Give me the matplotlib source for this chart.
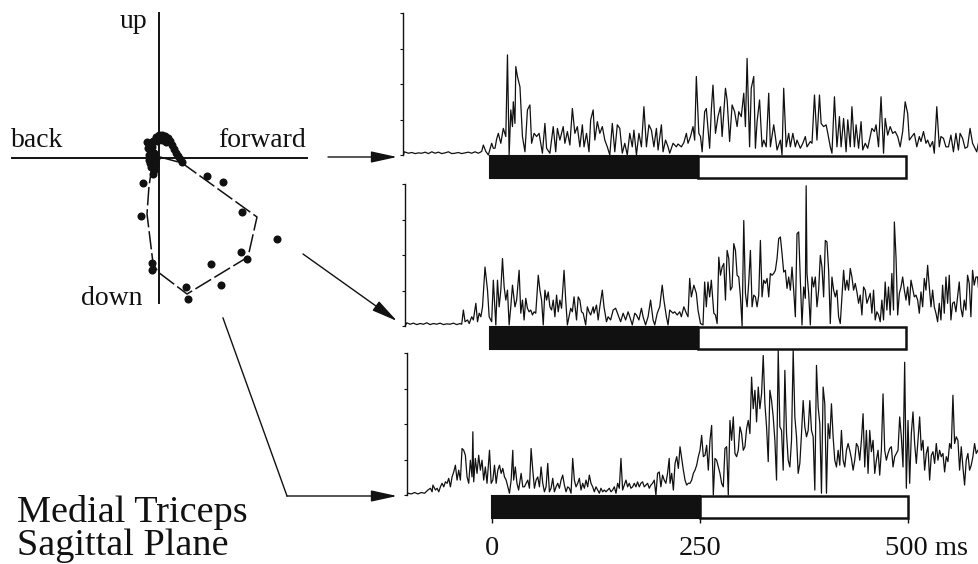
import numpy as np
import matplotlib
matplotlib.use("Agg")
import matplotlib.pyplot as plt
from matplotlib.patches import FancyArrowPatch, Rectangle

plt.rcParams['font.family'] = ['Liberation Serif', 'DejaVu Serif']

# ---------------- data ----------------
# left panel: hand positions (units relative to origin, x = forward, y = up)
dots_x = [-10, -10, -9, -8, -6, -3, 0, 3, 6, 9, 11, 13, 15, 17, 19, 21,
          -9, -8, -5, -4, -6, -5, -7, -2, 3, 7, -3, -11, -12, -4,
          23, 48, 64, 83, 118, 82, 88, 52, 62, 27, 29, -7, -7, -18, -16, -6]
dots_y = [-2, 3, 8, 13, 17, 21, 23, 23, 22, 20, 17, 13, 9, 5, 2, -1,
          -5, -9, -12, -7, -1, 5, 11, 17, 18, 16, 0, 10, 16, -3,
          -4, -18, -24, -54, -81, -94, -101, -106, -127, -129, -141, -105, -112, -58, -25, -16]
loop_x = [1, 23, 98, 89, 28, -1, -6, -12, -10, -6, 1]
loop_y = [1, -5, -59, -99, -136, -114, -105, -56, -28, -2, 1]

# EMG traces: (time in ms, amplitude in tick units)
emg_top = [(-104, 0.0), (-103, 0.09), (-98, 0.05), (-94, 0.07), (-90, 0.04), (-86, 0.06), (-82, 0.05), (-78, 0.08), (-74, 0.04), (-70, 0.09),
    (-66, 0.05), (-62, 0.08), (-58, 0.04), (-54, 0.06), (-50, 0.09), (-46, 0.04), (-42, 0.05), (-38, 0.07), (-34, 0.04), (-30, 0.06),
    (-26, 0.08), (-22, 0.05), (-18, 0.09), (-14, 0.05), (-10, 0.10), (-8, 0.28), (-5, 0.10), (-2, 0.0), (2, 0.33), (4, 0.19), (6, 0.19),
    (8, 0.45), (10, 0.61), (13, 0.33), (16, 0.75), (19, 0.52), (21, 2.82), (23, 0.0), (25, 1.27), (27, 0.80), (28, 1.50), (30, 0.89),
    (31, 2.49), (33, 2.21), (36, 1.92), (39, 0.52), (42, 0.09), (45, 1.27), (48, 1.41), (50, 0.33), (53, 0.61), (56, 0.52), (59, 0.61),
    (63, 0.05), (66, 0.89), (68, 0.19), (72, 0.05), (76, 0.80), (79, 0.09), (81, 0.75), (84, 0.42), (88, 0.80), (90, 0.33), (93, 0.66),
    (96, 0.28), (99, 1.31), (102, 0.61), (105, 0.80), (108, 0.23), (111, 0.85), (113, 0.23), (116, 0.61), (119, 0.09), (121, 0.99),
    (124, 1.27), (126, 0.42), (129, 0.94), (132, 0.61), (135, 0.80), (138, 0.42), (141, 0.23), (144, 0.0), (147, 0.89), (150, 0.09),
    (153, 0.85), (156, 0.75), (159, 0.05), (162, 0.33), (165, 0.0), (168, 0.61), (171, 0.23), (173, 0.70), (176, 0.0), (179, 0.61),
    (182, 0.23), (185, 1.36), (188, 0.23), (191, 0.85), (194, 0.70), (197, 0.23), (200, 0.75), (202, 0.14), (206, 0.85), (208, 0.09),
    (211, 0.42), (214, 0.23), (216, 0.05), (220, 0.33), (224, 0.23), (226, 0.31), (230, 0.23), (233, 0.35), (236, 0.61), (238, 0.33),
    (241, 0.52), (244, 0.80), (246, 0.42), (248, 2.21), (251, 0.61), (253, 0.52), (255, 0.09), (258, 1.22), (260, 1.31), (264, 0.19),
    (266, 1.27), (268, 1.97), (271, 0.61), (274, 1.08), (277, 1.36), (279, 0.52), (283, 1.88), (285, 1.55), (288, 0.38), (291, 1.41),
    (294, 1.22), (297, 0.80), (299, 1.22), (302, 1.08), (305, 1.74), (307, 0.80), (309, 2.72), (312, 0.23), (314, 1.88), (317, 2.21),
    (319, 0.19), (321, 0.94), (324, 1.55), (327, 0.23), (329, 0.42), (332, 0.23), (335, 1.74), (337, 0.23), (341, 0.85), (343, 0.52),
    (345, 0.14), (349, 0.42), (351, 0.0), (353, 1.88), (356, 0.23), (359, 0.61), (361, 0.23), (364, 0.61), (367, 0.23), (369, 0.42),
    (373, 0.19), (376, 0.33), (379, 0.52), (381, 0.23), (385, 0.38), (387, 0.33), (390, 1.69), (393, 0.42), (396, 1.69), (398, 0.89),
    (401, 0.80), (404, 0.85), (406, 0.61), (409, 0.23), (411, 0.05), (414, 1.64), (417, 0.23), (420, 1.08), (422, 0.23), (425, 1.03),
    (428, 0.09), (430, 0.99), (433, 0.23), (435, 1.36), (438, 0.23), (440, 0.85), (443, 0.19), (446, 0.94), (448, 0.14), (451, 0.33),
    (454, 0.19), (456, 0.42), (459, 0.75), (462, 0.66), (464, 0.85), (467, 0.23), (470, 1.64), (473, 0.05), (475, 1.03), (478, 0.56),
    (481, 0.80), (484, 0.61), (487, 0.66), (490, 0.52), (493, 0.23), (496, 0.66), (499, 1.50), (502, 1.17), (504, 0.42), (507, 0.52),
    (510, 0.61), (513, 0.23), (516, 0.52), (518, 0.38), (521, 0.66), (524, 0.33), (526, 0.42), (529, 0.23), (532, 0.38), (534, 0.05),
    (537, 1.36), (540, 0.23), (542, 0.52), (545, 0.47), (548, 0.23), (551, 0.23), (554, 0.56), (557, 0.09), (560, 0.61), (563, 0.14),
    (565, 0.61), (568, 0.47), (571, 0.19), (574, 0.23), (577, 0.75), (580, 0.33), (583, 0.19), (585, 0.09), (587, 0.33)]

emg_mid = [(-102, 0.0), (-100, 0.09), (-96, 0.05), (-92, 0.08), (-88, 0.04), (-84, 0.07), (-80, 0.05), (-76, 0.09), (-72, 0.04), (-68, 0.07),
    (-64, 0.05), (-60, 0.08), (-56, 0.04), (-52, 0.06), (-48, 0.05), (-44, 0.08), (-40, 0.04), (-36, 0.07), (-34, 0.05), (-32, 0.45),
    (-30, 0.12), (-27, 0.17), (-25, 0.07), (-22, 0.26), (-20, 0.17), (-17, 0.64), (-15, 0.12), (-13, 0.36), (-11, 0.26), (-9, 0.54),
    (-6, 1.66), (-3, 1.01), (-1, 0.26), (2, 0.12), (4, 1.29), (7, 0.03), (9, 1.29), (11, 0.54), (13, 1.01), (15, 1.90), (17, 1.10),
    (19, 0.73), (21, 1.01), (23, 0.03), (25, 0.54), (27, 1.15), (30, 0.54), (32, 0.73), (35, 1.57), (37, 0.36), (39, 0.73), (41, 0.17),
    (43, 0.78), (45, 0.50), (47, 0.40), (49, 0.45), (51, 0.31), (53, 0.40), (55, 0.36), (58, 1.43), (60, 1.01), (62, 0.73), (64, 0.03),
    (66, 1.01), (68, 0.73), (70, 0.96), (72, 0.54), (74, 0.45), (76, 0.73), (78, 0.26), (80, 0.87), (82, 0.40), (84, 0.73), (86, 0.50),
    (89, 1.57), (91, 0.73), (93, 0.03), (95, 0.26), (97, 0.50), (99, 0.40), (101, 0.82), (104, 0.17), (106, 0.82), (108, 0.73),
    (110, 0.40), (112, 0.36), (115, 0.03), (117, 0.54), (119, 0.40), (121, 0.31), (124, 0.54), (125, 0.36), (128, 0.59), (130, 0.17),
    (132, 0.54), (135, 1.01), (137, 0.54), (140, 0.12), (142, 0.26), (145, 0.17), (148, 0.45), (151, 0.50), (154, 0.31), (157, 0.12),
    (160, 0.36), (163, 0.17), (166, 0.40), (168, 0.26), (171, 0.03), (174, 0.36), (176, 0.31), (179, 0.17), (182, 0.50), (184, 0.26),
    (187, 0.03), (190, 0.26), (193, 0.73), (196, 0.17), (198, 0.03), (201, 0.36), (204, 0.54), (207, 1.15), (209, 0.73), (212, 0.26),
    (214, 0.03), (216, 0.45), (220, 0.36), (222, 0.40), (225, 0.31), (228, 0.40), (230, 0.26), (233, 0.54), (236, 0.36), (238, 0.26),
    (240, 1.34), (242, 0.82), (245, 1.15), (248, 0.92), (250, 0.45), (253, 0.07), (256, 0.03), (258, 1.24), (260, 0.54), (262, 1.24),
    (264, 0.82), (266, 1.29), (269, 0.36), (271, 0.31), (273, 0.07), (275, 1.94), (277, 1.43), (279, 1.66), (281, 1.76), (283, 0.73),
    (285, 2.13), (287, 1.90), (289, 1.01), (291, 1.10), (293, 2.32), (295, 2.13), (297, 1.43), (299, 1.38), (301, 0.82), (303, 0.0),
    (305, 2.97), (307, 0.92), (309, 0.54), (311, 1.24), (313, 2.13), (315, 0.54), (317, 0.87), (319, 0.82), (321, 0.54), (323, 0.87),
    (325, 2.41), (327, 0.82), (329, 1.29), (331, 1.20), (333, 1.34), (335, 0.82), (337, 1.48), (339, 1.43), (341, 1.48), (343, 1.57),
    (345, 1.90), (347, 2.46), (349, 2.51), (351, 2.04), (353, 1.52), (355, 1.57), (357, 1.06), (359, 1.38), (361, 1.01), (363, 1.66),
    (365, 1.01), (367, 0.26), (369, 2.60), (371, 2.65), (373, 1.29), (375, 0.03), (377, 1.10), (379, 0.78), (380, 3.95), (381, 1.48),
    (383, 0.92), (385, 0.03), (387, 1.38), (389, 1.10), (391, 1.38), (393, 0.54), (395, 1.01), (397, 1.99), (399, 1.66), (401, 0.82),
    (403, 2.41), (405, 2.37), (407, 1.57), (409, 0.07), (411, 1.38), (413, 1.01), (415, 0.82), (417, 1.01), (419, 0.26), (421, 0.07),
    (423, 0.82), (425, 1.57), (427, 1.01), (429, 1.29), (431, 1.01), (433, 1.62), (435, 1.38), (437, 1.01), (439, 1.20), (441, 0.96),
    (443, 0.64), (445, 0.87), (447, 0.31), (449, 1.10), (451, 1.01), (453, 0.64), (455, 0.78), (457, 0.92), (459, 0.36), (461, 1.01),
    (463, 0.17), (465, 0.40), (467, 0.31), (469, 0.12), (471, 0.73), (473, 0.17), (475, 1.24), (477, 0.45), (479, 1.10), (481, 0.31),
    (483, 1.48), (485, 0.45), (486, 2.93), (488, 1.94), (490, 0.31), (492, 0.92), (494, 1.10), (496, 1.38), (498, 1.01), (500, 0.73),
    (502, 1.10), (504, 0.59), (506, 1.29), (508, 1.06), (510, 0.82), (512, 0.87), (514, 0.73), (516, 0.36), (518, 0.96), (520, 0.54),
    (522, 1.34), (524, 1.01), (526, 1.71), (528, 1.10), (530, 0.54), (532, 1.01), (534, 0.54), (536, 0.36), (538, 0.12), (540, 0.64),
    (542, 0.17), (544, 1.15), (546, 0.36), (548, 1.38), (550, 0.64), (552, 1.43), (554, 0.17), (556, 0.64), (558, 0.68), (560, 0.40),
    (562, 0.82), (564, 1.24), (566, 0.50), (568, 0.26), (570, 0.73), (572, 0.45), (574, 1.43), (576, 1.20), (578, 0.26), (580, 1.57),
    (582, 1.15), (584, 1.38), (586, 1.38), (587, 1.10)]

emg_bottom = [(-102, 0.0), (-101, 0.05), (-97, 0.03), (-93, 0.07), (-89, 0.03), (-85, 0.07), (-81, 0.05), (-77, 0.14), (-74, 0.19),
    (-72, 0.09), (-71, 0.28), (-68, 0.14), (-66, 0.19), (-64, 0.09), (-62, 0.23), (-60, 0.33), (-58, 0.23), (-56, 0.37), (-54, 0.33),
    (-52, 0.47), (-50, 0.23), (-48, 0.51), (-46, 0.65), (-44, 0.84), (-42, 0.42), (-40, 0.70), (-38, 0.42), (-36, 1.31), (-34, 1.26),
    (-32, 1.12), (-30, 0.51), (-28, 0.33), (-26, 0.98), (-24, 0.51), (-23, 1.78), (-22, 0.37), (-20, 1.03), (-18, 0.61), (-16, 1.12),
    (-14, 0.70), (-12, 0.98), (-10, 0.42), (-8, 0.79), (-6, 0.33), (-3, 1.26), (-1, 0.33), (1, 0.42), (3, 0.84), (5, 0.33), (7, 0.70),
    (9, 0.84), (11, 0.61), (13, 0.75), (15, 0.51), (17, 0.42), (19, 0.23), (21, 0.05), (23, 0.42), (25, 1.26), (26, 0.42), (28, 0.79),
    (30, 0.33), (32, 0.14), (35, 0.61), (37, 0.23), (39, 0.23), (41, 0.33), (43, 0.42), (45, 0.19), (47, 1.31), (49, 0.70), (51, 0.19),
    (53, 0.42), (55, 0.51), (57, 0.23), (59, 0.79), (61, 0.33), (63, 0.09), (65, 0.23), (67, 0.89), (69, 0.09), (71, 0.19), (73, 0.47),
    (75, 0.09), (77, 0.23), (79, 0.33), (81, 0.19), (83, 0.42), (85, 0.56), (87, 0.28), (89, 0.09), (91, 0.23), (93, 0.19), (95, 0.05),
    (97, 1.03), (99, 0.42), (101, 0.23), (103, 0.33), (105, 0.47), (107, 0.14), (109, 0.33), (111, 0.19), (113, 0.42), (115, 0.23),
    (117, 0.56), (119, 0.33), (121, 0.23), (123, 0.09), (125, 0.23), (127, 0.14), (129, 0.05), (131, 0.19), (133, 0.09), (135, 0.14),
    (137, 0.09), (139, 0.14), (141, 0.19), (143, 0.09), (145, 0.14), (147, 0.23), (149, 0.05), (151, 0.33), (153, 0.19), (155, 1.03),
    (157, 0.14), (159, 0.28), (161, 0.42), (163, 0.23), (165, 0.33), (167, 0.19), (169, 0.23), (171, 0.33), (173, 0.23), (175, 0.37),
    (177, 0.23), (179, 0.33), (181, 0.37), (183, 0.23), (185, 0.28), (187, 0.33), (189, 0.19), (191, 0.28), (193, 0.33), (195, 0.42),
    (197, 0.0), (199, 0.61), (201, 0.65), (203, 0.23), (205, 0.56), (207, 0.42), (209, 0.33), (211, 0.61), (213, 1.03),
    (214, 0.33), (216, 0.61), (218, 0.14), (220, 0.89), (222, 1.08), (224, 0.75), (226, 1.36), (228, 1.03), (230, 0.70), (232, 0.42),
    (234, 0.28), (236, 0.33), (238, 0.33), (240, 0.42), (242, 0.61), (244, 0.70), (246, 0.84), (248, 1.08), (250, 1.26), (252, 1.68),
    (254, 1.08), (256, 1.12), (258, 1.40), (260, 0.70), (262, 1.54), (264, 1.96), (266, 0.0), (268, 1.03), (270, 0.98), (272, 0.79),
    (274, 0.61), (276, 0.33), (278, 0.23), (280, 1.31), (282, 1.36), (284, 0.0), (286, 2.10), (288, 1.54), (290, 2.20), (292, 1.17),
    (294, 1.08), (296, 1.26), (298, 1.92), (300, 1.73), (302, 1.26), (304, 1.36), (306, 1.87), (308, 2.10), (310, 1.73), (312, 3.32),
    (314, 2.43), (316, 2.95), (318, 2.06), (320, 3.04), (322, 2.43), (324, 2.85), (326, 3.93), (328, 2.57), (330, 1.92), (332, 0.94),
    (334, 2.95), (336, 2.66), (338, 2.20), (340, 1.54), (342, 0.42), (344, 4.07), (346, 1.92), (348, 1.82), (350, 0.70), (352, 3.51),
    (354, 1.73), (356, 0.98), (358, 0.79), (360, 1.54), (362, 4.07), (364, 2.20), (366, 1.64), (368, 0.61), (370, 0.89), (372, 1.73),
    (374, 2.66), (376, 1.92), (378, 1.64), (380, 1.82), (382, 2.66), (384, 1.82), (386, 1.64), (388, 0.14), (390, 3.65), (392, 2.48),
    (394, 2.01), (396, 0.05), (398, 3.04), (400, 2.57), (402, 0.05), (404, 2.01), (406, 1.59), (408, 2.57), (410, 1.64), (412, 0.98),
    (414, 0.79), (416, 1.26), (418, 0.84), (420, 1.82), (422, 0.98), (424, 0.79), (426, 1.26), (428, 1.45), (430, 1.26), (432, 1.03),
    (434, 0.70), (436, 0.98), (438, 1.45), (440, 1.36), (442, 0.98), (444, 1.54), (446, 2.29), (448, 0.79), (450, 1.82), (452, 0.61),
    (454, 1.82), (456, 1.22), (458, 1.54), (460, 0.61), (462, 0.98), (464, 1.26), (466, 0.56), (468, 1.26), (470, 2.85), (472, 1.26),
    (474, 0.98), (476, 1.17), (478, 1.31), (480, 1.36), (482, 0.79), (484, 1.08), (486, 1.17), (488, 1.26), (490, 2.20), (492, 1.64),
    (494, 0.79), (496, 3.74), (498, 0.19), (500, 2.10), (502, 0.33), (504, 1.73), (506, 2.34), (508, 1.45), (510, 0.89), (512, 1.54),
    (514, 2.20), (516, 1.26), (518, 1.54), (520, 0.70), (522, 1.17), (524, 1.36), (526, 0.42), (528, 1.12), (530, 1.22), (532, 0.89),
    (534, 1.45), (536, 0.98), (538, 1.26), (540, 1.08), (542, 1.17), (544, 0.65), (546, 1.08), (548, 0.94), (550, 1.45), (552, 1.31),
    (554, 2.81), (556, 1.45), (558, 1.64), (560, 1.54), (562, 0.70), (564, 1.36), (566, 0.79), (568, 0.28), (570, 0.98), (572, 1.17),
    (574, 0.70), (576, 0.84), (578, 1.08), (580, 1.45), (582, 1.17), (584, 1.26)]

phase_edges = [0, 250, 500]          # ms: black phase 0-250, white phase 250-500
time_labels = ["0", "250", "500 ms"]
y_ticks = [0, 1, 2, 3, 4]

# ---------------- layout ----------------
W, H = 979, 564
fig = plt.figure(figsize=(W / 100, H / 100), dpi=100)
fig.patch.set_facecolor('white')


def px_axes(x0, y0, x1, y1):
    """axes from a pixel box (top-left origin)"""
    return fig.add_axes([x0 / W, 1 - y1 / H, (x1 - x0) / W, (y1 - y0) / H])


INK = '#111111'

# left panel: hand path in the sagittal plane
ax0 = px_axes(0, 0, 330, 330)
ax0.set_xlim(-159, 171)
ax0.set_ylim(-172, 158)
ax0.axis('off')
ax0.plot([-147, 148], [0, 0], color=INK, lw=1.4)
ax0.plot([0, 0], [-145, 145], color=INK, lw=1.4)
ax0.plot(loop_x, loop_y, color=INK, lw=1.1, ls=(0, (12, 2.5)))
ax0.plot(dots_x, dots_y, 'o', color=INK, ms=5.8, mew=0)

# EMG traces
S = 35.5          # px per amplitude tick
PXMS = 0.832      # px per ms
specs = [(403, 490, 155), (405, 490, 326), (407, 492, 495)]  # axis px, zero px, baseline px
traces = [emg_top, emg_mid, emg_bottom]
axes = []
for (axpx, zpx, B), pts in zip(specs, traces):
    y_lo, y_hi = -0.9, 4.3
    ax = px_axes(axpx, B - y_hi * S, W, B - y_lo * S)
    ax.set_xlim((axpx - zpx) / PXMS, (W - zpx) / PXMS)
    ax.set_ylim(y_lo, y_hi)
    ax.patch.set_alpha(0)
    t = [p[0] for p in pts]
    a = [p[1] for p in pts]
    ax.plot(t, a, color=INK, lw=0.9, clip_on=False, zorder=3)
    ax.add_patch(Rectangle((phase_edges[0], -0.66), phase_edges[1] - phase_edges[0], 0.63,
                           fc=INK, ec=INK, lw=1.5, zorder=2))
    ax.add_patch(Rectangle((phase_edges[1], -0.66), phase_edges[2] - phase_edges[1], 0.63,
                           fc='white', ec=INK, lw=1.8, zorder=2))
    for s in ['top', 'right', 'bottom']:
        ax.spines[s].set_visible(False)
    ax.spines['left'].set_bounds(0, 4)
    ax.spines['left'].set_linewidth(1.0)
    ax.spines['left'].set_color(INK)
    ax.set_yticks(y_ticks)
    ax.set_yticklabels([])
    ax.tick_params(axis='y', length=2.5, width=0.8, direction='out', color=INK)
    ax.set_xticks([])
    axes.append(ax)

ax3 = axes[2]
ax3.vlines(phase_edges, -0.78, -0.66, color=INK, lw=1.0)
for x, lab in zip(phase_edges, time_labels):
    if lab.endswith('ms'):
        ax3.text(x - 28, -1.68, lab, ha='left', va='baseline', fontsize=20.5, color=INK)
    else:
        ax3.text(x, -1.68, lab, ha='center', va='baseline', fontsize=20.5, color=INK)

# overlay for labels and arrows (pixel coordinates)
ov = px_axes(0, 0, W, H)
ov.set_xlim(0, W)
ov.set_ylim(H, 0)
ov.axis('off')
ov.patch.set_alpha(0)

lab_kw = dict(fontsize=20, color=INK, va='baseline')
ov.text(147, 28, 'up', ha='right', **lab_kw)
ov.text(11, 147, 'back', ha='left', **lab_kw)
ov.text(306, 147, 'forward', ha='right', **lab_kw)
ov.text(143, 305, 'down', ha='right', **lab_kw)
ov.text(17, 522, 'Medial Triceps', ha='left', va='baseline', fontsize=27.5, color=INK)
ov.text(17, 555, 'Sagittal Plane', ha='left', va='baseline', fontsize=27.5, color=INK)

astyle = '-|>,head_length=1.6,head_width=0.35'
for (p0, p1) in [((328, 157), (397, 157)), ((303, 254), (397, 321)), ((287, 496), (397, 496))]:
    ov.add_patch(FancyArrowPatch(p0, p1, arrowstyle=astyle, mutation_scale=10,
                                 color=INK, lw=1.0, shrinkA=0, shrinkB=0))
ov.plot([223, 287], [318, 496], color=INK, lw=1.0)

fig.savefig('out.png', dpi=100, facecolor='white')
